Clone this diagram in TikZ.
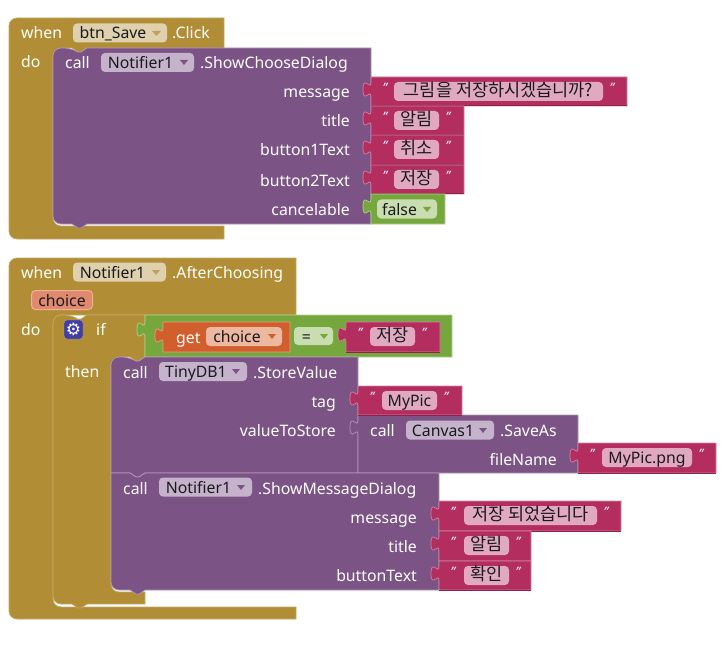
\documentclass[tikz,border=0pt]{standalone}
\usepackage{fontspec}
\setmainfont{Noto Sans}
\newfontfamily\kr{Noto Sans CJK KR}
\newfontfamily\sym{DejaVu Sans}
\definecolor{gold}{RGB}{177,142,53}
\definecolor{goldln}{RGB}{196,170,104}
\definecolor{goldfld}{RGB}{224,209,174}
\definecolor{plum}{RGB}{124,83,133}
\definecolor{plumln}{RGB}{176,152,182}
\definecolor{plumfld}{RGB}{197,179,204}
\definecolor{rose}{RGB}{179,45,94}
\definecolor{roseln}{RGB}{209,130,160}
\definecolor{rosedk}{RGB}{140,35,75}
\definecolor{rosefld}{RGB}{225,169,191}
\definecolor{leaf}{RGB}{118,167,61}
\definecolor{leafln}{RGB}{178,208,144}
\definecolor{leaffld}{RGB}{200,221,176}
\definecolor{rust}{RGB}{208,95,45}
\definecolor{rustln}{RGB}{226,160,130}
\definecolor{rustfld}{RGB}{236,184,160}
\definecolor{argfill}{RGB}{224,137,110}
\definecolor{argln}{RGB}{238,178,145}
\definecolor{ink}{RGB}{25,25,30}
\definecolor{gearblue}{RGB}{63,63,165}
\usepackage{tikz}
\usetikzlibrary{positioning}
% left-hand puzzle tab of a value block, from lower end up to upper end
\newcommand{\valtab}[2]{(#1,#2+20) .. controls (#1,#2+10) and (#1-8,#2+28) .. (#1-8,#2+12.5) .. controls (#1-8,#2-3) and (#1,#2+15) .. (#1,#2+5)}
\tikzset{
  goldblk/.style={fill=gold,draw=goldln,line width=.7pt},
  plumblk/.style={fill=plum,draw=plumln,line width=.7pt},
  roseblk/.style={fill=rose,draw=roseln,line width=.7pt},
  leafblk/.style={fill=leaf,draw=leafln,line width=.7pt},
  rustblk/.style={fill=rust,draw=rustln,line width=.7pt},
  lbl/.style={text=white,inner sep=0pt,anchor=base west,yshift=-1pt,font=\fontsize{15.8}{18}\selectfont},
  lblr/.style={lbl,anchor=base east},
  fld/.style={rounded corners=4pt,inner sep=0pt,minimum height=19pt,text=ink,text height=13.5pt,text depth=1.5pt,font=\fontsize{15.8}{18}\selectfont},
  hfld/.style={fld,text height=12.5pt,text depth=2.5pt,font=\kr\fontsize{17.5}{18}\selectfont},
  quot/.style={text=white,inner sep=0pt,font=\fontsize{13}{13}\selectfont\bfseries\itshape}
}
\begin{document}
\begin{tikzpicture}[x=1pt,y=-1pt]
  \useasboundingbox (0,0) rectangle (726,658);
  % first event block
  \path[goldblk] (9,60) [rounded corners=8pt] -- (9,18) -- (40,18) [sharp corners] -- (224,18) -- (224,48) -- (87,48) -- (81,52) -- (78,52) -- (72,48) -- (61,48) -- (61,56) -- (53,56) -- (53,200) [rounded corners=8pt] -- (53,226) -- (80,226) [sharp corners] -- (224,226) -- (224,239) -- (40,239) [rounded corners=8pt] -- (9,239) -- cycle;
  \path[plumblk] (53,100) [rounded corners=8pt] -- (53,48) -- (72,48) [sharp corners] -- (78,52) -- (81,52) -- (87,48) -- (371,48) -- (371,224) -- (87,224) -- (81,228) -- (78,228) -- (72,224) [rounded corners=8pt] -- (53,224) -- cycle;
  \node[lbl] (whenA) at (21,38) {when};
  \node[lbl] (doA) at (21,67) {do};
  \node[fld,fill=goldfld,minimum width=94pt] (btnSave) at (120,33) {btn\_Save\kern14pt};
  \fill[gold!70!goldfld] (152,31) -- (161,31) -- (156.5,36) -- cycle;
  \node[lbl] (clickA) at (172,38) {.Click};
  \node[lbl] (callA) at (65,68) {call};
  \node[fld,fill=plumfld,minimum width=93pt] (notiA) at (147.5,62.5) {Notifier1\kern14pt};
  \fill[plum] (180,60) -- (188,60) -- (184,65) -- cycle;
  \node[lbl] (showA) at (200,68) {.ShowChooseDialog};
  \foreach \nm/\yy/\txt in {msgA/97/message,titleA/126/title,btnA/155/button1Text,btnB/185/button2Text,cancelA/214/cancelable}
    \node[lblr] (\nm) at (350,\yy) {\txt};
  % second event block
  \path[goldblk] (9,320) [rounded corners=8pt] -- (9,258) -- (40,258) [sharp corners] -- (296,258) -- (296,315) -- (87,315) -- (61,315) -- (61,323) -- (53,323) -- (53,580) [rounded corners=8pt] -- (53,607) -- (80,607) [sharp corners] -- (296,607) -- (296,619) -- (40,619) [rounded corners=8pt] -- (9,619) -- cycle;
  % if block
  \path[goldblk] (53,340) [rounded corners=8pt] -- (53,315) -- (72,315) [sharp corners] -- (78,319) -- (81,319) -- (87,315) -- (145,315) -- (145,357) -- (145,357) -- (139,361) -- (136,361) -- (130,357) -- (119,357) -- (119,365) -- (111,365) -- (111,570) [rounded corners=8pt] -- (111,592) -- (125,592) [sharp corners] -- (145,592) -- (145,604) -- (87,604) -- (81,608) -- (78,608) -- (72,604) [rounded corners=8pt] -- (53,604) -- cycle;
  \node[lbl] (whenB) at (21,277) {when};
  \node[fld,fill=goldfld,minimum width=93pt] (notiB) at (119.5,272) {Notifier1\kern14pt};
  \fill[gold!70!goldfld] (152,270) -- (160,270) -- (156,275) -- cycle;
  \node[lbl] (afterB) at (172,277) {.AfterChoosing};
  \node[fld,fill=argfill,draw=argln,line width=1pt,minimum width=61pt] (argB) at (62,300) {choice};
  \node[lbl] (doB) at (21,334) {do};
  \node[rounded corners=3pt,fill=gearblue,draw=goldln,minimum size=19pt,inner sep=0pt,text=white,font=\sym\fontsize{17}{17}\selectfont] (gearB) at (73.5,329.5) {⚙};
  \node[lbl] (ifB) at (96,334) {if};
  \node[lbl] (thenB) at (65,376) {then};
  % condition
  \path[leafblk] (145,315) -- (452,315) -- (452,357) -- (145,357) -- \valtab{145}{317} -- cycle;
  \path[rustblk] (163,322) -- (290,322) -- (290,352) -- (163,352) -- \valtab{163}{323} -- cycle;
  \node[lbl] (getB) at (176,342) {get};
  \node[fld,fill=rustfld,minimum width=76pt] (choiceB) at (244,336.5) {choice\kern14pt};
  \fill[rust] (268,334) -- (276,334) -- (272,339) -- cycle;
  \node[fld,fill=leaffld,minimum width=39pt,minimum height=18pt] (eqB) at (313.5,336) {=\kern14pt};
  \fill[leaf] (320,334) -- (328,334) -- (324,339) -- cycle;
  % store value
  \path[plumblk] (111,400) [rounded corners=8pt] -- (111,357) -- (130,357) [sharp corners] -- (136,361) -- (139,361) -- (145,357) -- (358,357) -- (358,473) -- (145,473) -- (139,477) -- (136,477) -- (130,473) -- (111,473) -- cycle;
  \node[lbl] (callC) at (123,377) {call};
  \node[fld,fill=plumfld,minimum width=88pt] (tinyC) at (203,371.5) {TinyDB1\kern14pt};
  \fill[plum] (232,369) -- (240,369) -- (236,374) -- cycle;
  \node[lbl] (storeC) at (253,377) {.StoreValue};
  \node[lblr] (tagC) at (336,406) {tag};
  \node[lblr] (valC) at (336,435) {valueToStore};
  % save as
  \path[plumblk] (358,415) -- (578,415) -- (578,473) -- (358,473) -- \valtab{358}{415} -- cycle;
  \node[lbl] (callD) at (370,435) {call};
  \node[fld,fill=plumfld,minimum width=88pt] (canvasD) at (450,430) {Canvas1\kern14pt};
  \fill[plum] (479,428) -- (487,428) -- (483,433) -- cycle;
  \node[lbl] (saveD) at (500,435) {.SaveAs};
  \node[lblr] (fileD) at (557,464) {fileName};
  % message dialog
  \path[plumblk] (111,473) -- (130,473) -- (136,477) -- (139,477) -- (145,473) -- (439,473) -- (439,590) -- (145,590) -- (139,594) -- (136,594) -- (130,590) [rounded corners=8pt] -- (111,590) -- (111,520) [sharp corners] -- cycle;
  \node[lbl] (callE) at (123,493) {call};
  \node[fld,fill=plumfld,minimum width=93pt] (notiE) at (205.5,487) {Notifier1\kern14pt};
  \fill[plum] (237,485) -- (245,485) -- (241,490) -- cycle;
  \node[lbl] (showE) at (258,493) {.ShowMessageDialog};
  \foreach \nm/\yy/\txt in {msgE/522/message,titleE/551/title,btnE/580/buttonText}
    \node[lblr] (\nm) at (417,\yy) {\txt};
  % text blocks
  \foreach \nm/\xa/\ya/\xb/\yb/\fa/\fb/\st/\txt in {
      msgS/371/77/627/106/394/603/hfld/그림을 저장하시겠습니까?,
      altS/371/106/464/135/394/439/hfld/알림,
      canS/371/135/464/165/394/439/hfld/취소,
      savS/371/165/464/194/394/439/hfld/저장,
      condS/346/322/440/352/370/415/hfld/저장,
      tagS/358/386/462/415/382/437/fld/MyPic,
      fileS/578/443/716/473/602/692/fld/MyPic.png,
      dlgM/439/501/621/531/464/597/hfld/저장 되었습니다,
      dlgT/439/531/531/561/464/509/hfld/알림,
      dlgB/439/561/531/590/464/509/hfld/확인}{
    \path[roseblk] (\xa,\ya) -- (\xb,\ya) -- (\xb,\yb) -- (\xa,\yb) -- \valtab{\xa}{\ya} -- cycle;
    \draw[rosedk,line width=1pt] (\xa,\yb) -- (\xb,\yb);
    \node[\st,fill=rosefld,minimum width={(\fb-\fa)*1pt}] (\nm) at ({(\fa+\fb)/2},\ya+14.5) {\txt};
    \node[quot] (\nm L) at (\xa+14,\ya+11) {"};
    \node[quot] (\nm R) at (\fb+9,\ya+11) {"};
  }
  % false block
  \path[leafblk] (371,194) -- (445,194) -- (445,224) -- (371,224) -- \valtab{371}{194} -- cycle;
  \node[fld,fill=leaffld,minimum width=60pt] (falseS) at (407,209) {false\kern15pt};
  \fill[leaf] (423,207) -- (431,207) -- (427,212) -- cycle;
\end{tikzpicture}
\end{document}
